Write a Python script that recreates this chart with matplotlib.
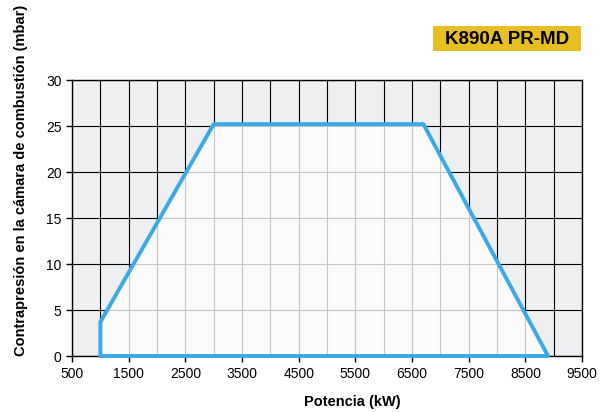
import numpy as np
import matplotlib.pyplot as plt
from matplotlib.patches import Polygon, Rectangle

# working envelope (kW, mbar)
potencia = [1000, 1000, 3000, 6700, 8900, 1000]
presion = [0, 3.7, 25.2, 25.2, 0, 0]

xticks = [500, 1500, 2500, 3500, 4500, 5500, 6500, 7500, 8500, 9500]
yticks = [0, 5, 10, 15, 20, 25, 30]
title = 'K890A PR-MD'

plt.rcParams['font.family'] = ['Liberation Sans', 'DejaVu Sans']

fig = plt.figure(figsize=(6.13, 4.14), dpi=100)
ax = fig.add_axes([0.1175, 0.1377, 0.8320, 0.6667])
ax.set_facecolor('#eeeff1')

ax.set_xlim(500, 9500)
ax.set_ylim(0, 30)
ax.set_xticks(xticks)
ax.set_yticks(yticks)
ax.set_xticks(np.arange(500, 9501, 500), minor=True)
ax.tick_params(axis='both', labelsize=10, length=4, width=1, color='black')
ax.tick_params(axis='x', which='minor', length=0)
ax.grid(True, which='both', color='black', linewidth=0.8)
ax.set_axisbelow(True)
for s in ax.spines.values():
    s.set_color('black')
    s.set_linewidth(1.0)

# fill area lightens the grid underneath
poly = Polygon(np.column_stack([potencia, presion]), closed=True,
               facecolor='white', alpha=0.78, edgecolor='none', zorder=2)
ax.add_patch(poly)
ax.plot(potencia, presion, color='#3aa9e6', linewidth=2.8,
        solid_joinstyle='round', solid_capstyle='round', zorder=3, clip_on=False)

ax.set_xlabel('Potencia (kW)', fontsize=10.5, fontweight='bold', va='center')
ax.xaxis.set_label_coords(0.549, -0.163)
ax.set_ylabel('Contrapresión en la cámara de combustión (mbar)', fontsize=10.5,
              fontweight='bold', va='center')
ax.yaxis.set_label_coords(-0.10, 0.641)

# title tag
fig.add_artist(Rectangle((0.7064, 0.8744), 0.2414, 0.0604,
                         transform=fig.transFigure, facecolor='#e8bf22',
                         edgecolor='none'))
fig.text(0.827, 0.9046, title, fontsize=13.5, fontweight='bold',
         ha='center', va='center')

plt.savefig('out.png', dpi=100)
